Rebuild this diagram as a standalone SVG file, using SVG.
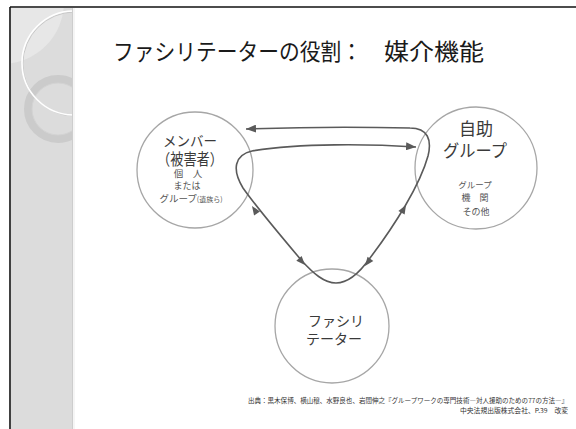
<svg xmlns="http://www.w3.org/2000/svg" width="576" height="429" viewBox="0 0 576 429">
<style>
  .jp { font-family: "Noto Sans CJK JP", "Noto Sans", sans-serif; }
  .node { fill: #ffffff; stroke: #a6a6a6; stroke-width: 1.3; }
  .lbl { fill: #3a3a3a; text-anchor: middle; }
  .sub { fill: #555555; text-anchor: middle; }
  .conn { fill: none; stroke: #5a5a5a; stroke-width: 1.6; }
  .ah { fill: #5a5a5a; }
</style>
<defs>
  <clipPath id="panelClip"><rect x="11" y="8" width="62" height="421"/></clipPath>
  <marker id="arrow" viewBox="0 0 10 8" refX="10" refY="4" markerWidth="10" markerHeight="8" markerUnits="userSpaceOnUse" orient="auto-start-reverse">
    <path d="M0,0 L10,4 L0,8 Z" fill="#5a5a5a"/>
  </marker>
  <path id="ahead" d="M0,0 L-9,-3.6 L-9,3.6 Z"/>
</defs>

<!-- background -->
<rect x="0" y="0" width="576" height="429" fill="#ffffff"/>
<g id="panel">
  <rect x="11" y="8" width="62" height="421" fill="#dcdcdc"/>
  <g clip-path="url(#panelClip)">
    <circle cx="2" cy="2" r="62" fill="#e7e7e7"/>
    <circle cx="58" cy="109" r="30" fill="none" stroke="#cbcbcb" stroke-width="8"/>
    <circle cx="58" cy="109" r="26" fill="none" stroke="#d3d3d3" stroke-width="1"/>
    <circle cx="74" cy="63" r="52" fill="none" stroke="#c8c8c8" stroke-width="1" transform="translate(0.8,1)"/>
    <circle cx="74" cy="63" r="52" fill="none" stroke="#ffffff" stroke-width="1.6"/>
  </g>
  <line x1="72.5" y1="8" x2="72.5" y2="429" stroke="#cdcdcd" stroke-width="1"/>
  <line x1="74" y1="8" x2="74" y2="429" stroke="#eeeeee" stroke-width="1.2"/>
</g>
<g id="frame">
  <line x1="10" y1="7" x2="576" y2="7" stroke="#111111" stroke-width="1.6"/>
  <line x1="10" y1="7" x2="10" y2="429" stroke="#111111" stroke-width="1.6"/>
</g>

<!-- title -->
<g id="title" class="jp">
  <text x="113" y="60" font-size="23" fill="#1a1a1a" textLength="249" lengthAdjust="spacingAndGlyphs">ファシリテーターの役割：</text>
  <text x="384" y="60" font-size="23" fill="#1a1a1a" textLength="100" lengthAdjust="spacingAndGlyphs">媒介機能</text>
</g>

<!-- nodes -->
<g id="node-member" class="jp">
  <circle class="node" cx="195" cy="170" r="58"/>
  <text class="lbl" x="190" y="146" font-size="14" textLength="54" lengthAdjust="spacingAndGlyphs">メンバー</text>
  <text class="lbl" x="190" y="165" font-size="15.5" textLength="66" lengthAdjust="spacingAndGlyphs">（被害者）</text>
  <text class="sub" x="188" y="177" font-size="9.5">個　人</text>
  <text class="sub" x="187" y="189" font-size="9">または</text>
  <text class="sub" x="191" y="202" font-size="9.5"><tspan>グループ</tspan><tspan font-size="7">(遺族ら)</tspan></text>
</g>

<g id="node-selfhelp" class="jp">
  <circle class="node" cx="476" cy="168" r="61"/>
  <text class="lbl" x="476" y="135" font-size="17">自助</text>
  <text class="lbl" x="475" y="157" font-size="17" textLength="64" lengthAdjust="spacingAndGlyphs">グループ</text>
  <text class="sub" x="475" y="188" font-size="8.5">グループ</text>
  <text class="sub" x="475" y="201" font-size="9">機　関</text>
  <text class="sub" x="476" y="215" font-size="9">その他</text>
</g>

<g id="node-facilitator" class="jp">
  <circle class="node" cx="332" cy="326" r="57"/>
  <text class="lbl" x="336" y="326" font-size="14">ファシリ</text>
  <text class="lbl" x="334" y="344" font-size="14">テーター</text>
</g>

<!-- connectors -->
<g id="connectors">
  <path class="conn" marker-start="url(#arrow)" marker-end="url(#arrow)"
        d="M246,129 C300,127 370,127 410,128 C428,128 432,140 428,156 C420,185 395,225 370,258 C358,275 347,283 336,283 C324,283 313,273 302,261 C280,235 255,205 243,188 C232,170 234,155 252,151 C300,143 370,144 416,147"/>
  <use href="#ahead" class="ah" transform="translate(252,206) rotate(-124)"/>
  <use href="#ahead" class="ah" transform="translate(305,265) rotate(48)"/>
  <use href="#ahead" class="ah" transform="translate(406,205) rotate(-60)"/>
  <use href="#ahead" class="ah" transform="translate(365,266) rotate(127)"/>
</g>

<!-- source -->
<g id="source" class="jp" fill="#333333">
  <text x="568" y="403" font-size="6.5" text-anchor="end" textLength="320" lengthAdjust="spacingAndGlyphs">出典：黒木保博、横山穣、水野良也、岩間伸之『グループワークの専門技術―対人援助のための77の方法―』</text>
  <text x="568" y="413" font-size="6.5" text-anchor="end" textLength="108" lengthAdjust="spacingAndGlyphs">中央法規出版株式会社、P.39　改変</text>
</g>
</svg>
